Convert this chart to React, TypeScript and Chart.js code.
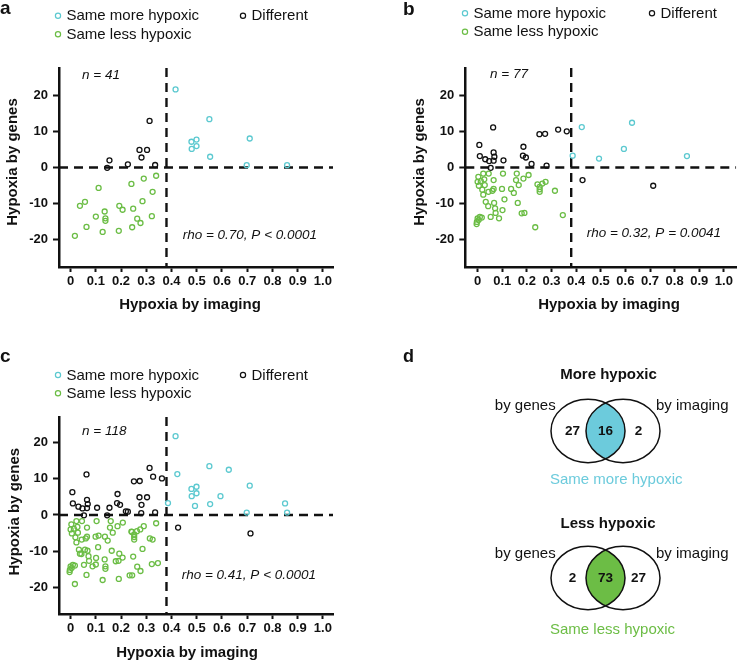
import React, { useEffect, useRef } from 'react';
import { Chart, registerables } from 'chart.js';

Chart.register(...registerables);

const FONT = '"Liberation Sans", Arial, Helvetica, sans-serif';
const CYAN = '#5cc9d0';
const GREEN = '#6bbd45';
const DARK = '#111111';
const VENN_CYAN = '#6ccbdc';
const VENN_GREEN = '#6cbd45';

const X_TICKS = [0, 1, 2, 3, 4, 5, 6, 7, 8, 9, 10].map((i) => i / 10);
const Y_TICKS = [-20, -10, 0, 10, 20];
const IMAGING_CUTOFF = 0.38;
const GENES_CUTOFF = 0;

const LEGEND_LABELS = ['Same more hypoxic', 'Different', 'Same less hypoxic'];
const X_TITLE = 'Hypoxia by imaging';
const Y_TITLE = 'Hypoxia by genes';

// ---- Panel a (n = 41)
const aSameMore: [number, number][] = [
  [0.416, 21.8], [0.55, 13.5], [0.71, 8.1], [0.479, 7.2], [0.499, 7.8],
  [0.499, 6.0], [0.48, 5.2], [0.553, 3.0], [0.698, 0.65], [0.858, 0.65],
];
const aDifferent: [number, number][] = [
  [0.313, 13.0], [0.273, 4.9], [0.303, 4.9], [0.281, 2.8], [0.154, 2.0],
  [0.145, -0.1], [0.227, 0.9], [0.335, 0.7],
];
const aSameLess: [number, number][] = [
  [0.339, -2.3], [0.29, -3.1], [0.241, -4.6], [0.111, -5.7], [0.325, -6.8],
  [0.037, -10.7], [0.057, -9.6], [0.285, -9.4], [0.193, -10.7], [0.206, -11.8],
  [0.248, -11.5], [0.135, -12.3], [0.1, -13.7], [0.138, -14.2], [0.138, -14.9],
  [0.264, -14.3], [0.277, -15.5], [0.322, -13.6], [0.063, -16.6], [0.127, -18.0],
  [0.191, -17.7], [0.244, -16.7], [0.017, -19.1],
];

// ---- Panel b (n = 77)
const bSameMore: [number, number][] = [
  [0.423, 11.3], [0.627, 12.5], [0.594, 5.2], [0.386, 3.3], [0.493, 2.5], [0.85, 3.2],
];
const bDifferent: [number, number][] = [
  [0.063, 11.2], [0.007, 6.3], [0.009, 3.2], [0.031, 2.3], [0.047, 1.8],
  [0.053, -0.1], [0.065, 4.2], [0.068, 3.0], [0.065, 1.9], [0.105, 2.0],
  [0.186, 5.8], [0.184, 3.3], [0.196, 2.8], [0.219, 1.0], [0.251, 9.3],
  [0.274, 9.4], [0.28, 0.5], [0.327, 10.6], [0.362, 10.1], [0.426, -3.5],
  [0.713, -5.1],
];
const bSameLess: [number, number][] = [
  [0.003, -2.6], [0.0, -4.0], [0.005, -5.1], [0.013, -3.8], [0.023, -1.7],
  [0.027, -3.3], [0.029, -4.9], [0.019, -6.2], [0.023, -7.6], [0.033, -9.6],
  [0.043, -10.8], [0.0, -14.2], [-0.003, -15.2], [-0.004, -15.8], [0.009, -13.8],
  [0.017, -14.0], [0.004, -14.7],
  [0.045, -1.7], [0.065, -3.5], [0.065, -6.0], [0.06, -6.5], [0.044, -6.8],
  [0.067, -9.9], [0.071, -11.4], [0.073, -12.7], [0.053, -13.8], [0.087, -14.2],
  [0.101, -11.9], [0.109, -8.9], [0.099, -6.0], [0.103, -1.7],
  [0.136, -6.0], [0.147, -7.1], [0.163, -9.9], [0.159, -1.7], [0.156, -3.5],
  [0.167, -4.9], [0.186, -3.1], [0.207, -2.1], [0.179, -12.8], [0.19, -12.7],
  [0.234, -16.7], [0.243, -4.7], [0.252, -5.4], [0.252, -6.1], [0.252, -6.8],
  [0.263, -4.5], [0.276, -4.0], [0.314, -6.5], [0.346, -13.3],
];

// ---- Panel c = a + b (n = 118)
const cSameMore = [...aSameMore, ...bSameMore];
const cDifferent = [...aDifferent, ...bDifferent];
const cSameLess = [...aSameLess, ...bSameLess];

const STATS = ['rho = 0.70, P < 0.0001', 'rho = 0.32, P = 0.0041', 'rho = 0.41, P < 0.0001'];
const N_LABELS = ['n = 41', 'n = 77', 'n = 118'];

// ---- Panel d (Venn counts: by genes only, both, by imaging only)
const VENN_TITLES = ['More hypoxic', 'Less hypoxic'];
const VENN_SET_LABELS = ['by genes', 'by imaging'];
const VENN_MORE = [27, 16, 2];
const VENN_LESS = [2, 73, 27];
const VENN_SAME = ['Same more hypoxic', 'Same less hypoxic'];

type TextItem = {
  t: string; x: number; y: number; font: string; color?: string;
  align?: CanvasTextAlign; baseline?: CanvasTextBaseline; rot?: number;
};
type LegendItem = { label: string; color: string; x: number; y: number };

function makeDecor(texts: TextItem[], legend: LegendItem[]) {
  return {
    id: 'decor',
    afterDraw(chart: any) {
      const ctx = chart.ctx as CanvasRenderingContext2D;
      ctx.save();
      for (const t of texts) {
        ctx.font = t.font;
        ctx.fillStyle = t.color || DARK;
        ctx.textAlign = t.align || 'left';
        ctx.textBaseline = t.baseline || 'middle';
        if (t.rot) {
          ctx.save();
          ctx.translate(t.x, t.y);
          ctx.rotate(t.rot);
          ctx.fillText(t.t, 0, 0);
          ctx.restore();
        } else {
          ctx.fillText(t.t, t.x, t.y);
        }
      }
      for (const l of legend) {
        ctx.beginPath();
        ctx.arc(l.x, l.y, 2.6, 0, Math.PI * 2);
        ctx.strokeStyle = l.color;
        ctx.lineWidth = 1.2;
        ctx.stroke();
        ctx.font = `15px ${FONT}`;
        ctx.fillStyle = DARK;
        ctx.textAlign = 'left';
        ctx.textBaseline = 'middle';
        ctx.fillText(l.label, l.x + 8.5, l.y + 0.5);
      }
      ctx.restore();
    },
  };
}

type PanelProps = {
  left: number; top: number; width: number; height: number;
  area: { left: number; top: number; right: number; bottom: number };
  xRange: [number, number]; yRange: [number, number];
  more: [number, number][]; diff: [number, number][]; less: [number, number][];
  texts: TextItem[]; legend: LegendItem[];
};

function ScatterPanel(p: PanelProps) {
  const ref = useRef<HTMLCanvasElement>(null);
  useEffect(() => {
    if (!ref.current) return;
    const pts = (data: [number, number][], color: string) => ({
      type: 'scatter' as const,
      data: data.map(([x, y]) => ({ x, y })),
      borderColor: color,
      backgroundColor: 'rgba(0,0,0,0)',
      pointRadius: 2.5,
      pointHoverRadius: 2.5,
      pointBorderWidth: 1.3,
      showLine: false,
      order: 1,
    });
    const dash = (data: { x: number; y: number }[]) => ({
      type: 'line' as const,
      data,
      borderColor: DARK,
      borderWidth: 2.4,
      borderDash: [9, 6],
      pointRadius: 0,
      fill: false,
      tension: 0,
      order: 10,
    });
    const tickFont = { family: FONT, size: 13, weight: 'bold' as const };
    const chart = new Chart(ref.current, {
      type: 'scatter',
      data: {
        datasets: [
          dash([{ x: p.xRange[0], y: GENES_CUTOFF }, { x: p.xRange[1], y: GENES_CUTOFF }]),
          dash([{ x: IMAGING_CUTOFF, y: p.yRange[1] }, { x: IMAGING_CUTOFF, y: p.yRange[0] }]),
          pts(p.less, GREEN),
          pts(p.diff, DARK),
          pts(p.more, CYAN),
        ] as any,
      },
      options: {
        animation: false,
        responsive: false,
        maintainAspectRatio: false,
        events: [],
        layout: { padding: { left: 0, top: p.area.top, right: p.width - p.area.right, bottom: 0 } },
        plugins: { legend: { display: false }, tooltip: { enabled: false } },
        scales: {
          x: {
            type: 'linear',
            min: p.xRange[0],
            max: p.xRange[1],
            afterBuildTicks: (s: any) => { s.ticks = X_TICKS.map((v) => ({ value: v })); },
            afterFit: (s: any) => { s.height = p.height - p.area.bottom; },
            ticks: {
              autoSkip: false, maxRotation: 0, minRotation: 0, padding: 2,
              color: DARK, font: tickFont,
              callback: (v: any) => (Number(v) === 0 ? '0' : Number(v).toFixed(1)),
            },
            grid: { display: true, drawOnChartArea: false, drawTicks: true, tickLength: 5, tickWidth: 2, tickColor: DARK },
            border: { display: true, color: DARK, width: 2.5 },
          },
          y: {
            type: 'linear',
            min: p.yRange[0],
            max: p.yRange[1],
            afterBuildTicks: (s: any) => { s.ticks = Y_TICKS.map((v) => ({ value: v })); },
            afterFit: (s: any) => { s.width = p.area.left; },
            ticks: { autoSkip: false, padding: 5, color: DARK, font: tickFont, callback: (v: any) => String(v) },
            grid: { display: true, drawOnChartArea: false, drawTicks: true, tickLength: 6, tickWidth: 2, tickColor: DARK },
            border: { display: true, color: DARK, width: 2.5 },
          },
        },
      } as any,
      plugins: [makeDecor(p.texts, p.legend)],
    });
    return () => chart.destroy();
  }, []);
  return (
    <canvas
      ref={ref}
      width={p.width}
      height={p.height}
      style={{ position: 'absolute', left: p.left, top: p.top, width: p.width, height: p.height, display: 'block' }}
    />
  );
}

// Venn coordinate system (units of circle radius)
const VX: [number, number] = [-6.365, 3.635];
const VY: [number, number] = [-7.29, 3.5];
const VENN_HALF_SEP = 0.473;
const VENN_ROWS = [0, -4.64];
const VENN_COUNT_X = [-0.89, 0, 0.89];

function VennPanel() {
  const ref = useRef<HTMLCanvasElement>(null);
  useEffect(() => {
    if (!ref.current) return;
    const groups = [
      { y: VENN_ROWS[0], counts: VENN_MORE, fill: VENN_CYAN },
      { y: VENN_ROWS[1], counts: VENN_LESS, fill: VENN_GREEN },
    ];
    const vennPlugin = {
      id: 'venn',
      afterDraw(chart: any) {
        const ctx = chart.ctx as CanvasRenderingContext2D;
        const X = chart.scales.x;
        const Y = chart.scales.y;
        const rx = X.getPixelForValue(1) - X.getPixelForValue(0);
        const ry = Y.getPixelForValue(0) - Y.getPixelForValue(1);
        const cxL = X.getPixelForValue(-VENN_HALF_SEP);
        const cxR = X.getPixelForValue(VENN_HALF_SEP);
        ctx.save();
        for (const g of groups) {
          const cy = Y.getPixelForValue(g.y);
          ctx.save();
          ctx.beginPath();
          ctx.ellipse(cxL, cy, rx, ry, 0, 0, Math.PI * 2);
          ctx.clip();
          ctx.beginPath();
          ctx.ellipse(cxR, cy, rx, ry, 0, 0, Math.PI * 2);
          ctx.fillStyle = g.fill;
          ctx.fill();
          ctx.restore();
          ctx.lineWidth = 1.5;
          ctx.strokeStyle = DARK;
          for (const cx of [cxL, cxR]) {
            ctx.beginPath();
            ctx.ellipse(cx, cy, rx, ry, 0, 0, Math.PI * 2);
            ctx.stroke();
          }
          ctx.font = `bold 13.5px ${FONT}`;
          ctx.fillStyle = DARK;
          ctx.textAlign = 'center';
          ctx.textBaseline = 'middle';
          g.counts.forEach((c, i) => {
            ctx.fillText(String(c), X.getPixelForValue(VENN_COUNT_X[i]), cy + 0.5);
          });
        }
        ctx.restore();
      },
    };
    const bold15 = `bold 15px ${FONT}`;
    const reg15 = `15px ${FONT}`;
    const texts: TextItem[] = [
      { t: 'd', x: 33, y: 41.7, font: `bold 18px ${FONT}`, baseline: 'alphabetic' },
      { t: VENN_TITLES[0], x: 238.5, y: 55, font: bold15, align: 'center' },
      { t: VENN_SET_LABELS[0], x: 185.7, y: 86, font: reg15, align: 'right' },
      { t: VENN_SET_LABELS[1], x: 286, y: 86, font: reg15 },
      { t: VENN_SAME[0], x: 180, y: 160, font: reg15, color: VENN_CYAN },
      { t: VENN_TITLES[1], x: 238, y: 204, font: bold15, align: 'center' },
      { t: VENN_SET_LABELS[0], x: 185.7, y: 234.3, font: reg15, align: 'right' },
      { t: VENN_SET_LABELS[1], x: 286, y: 234.3, font: reg15 },
      { t: VENN_SAME[1], x: 180, y: 310, font: reg15, color: VENN_GREEN },
    ];
    const chart = new Chart(ref.current, {
      type: 'scatter',
      data: { datasets: [{ data: [], pointRadius: 0 }] },
      options: {
        animation: false,
        responsive: false,
        maintainAspectRatio: false,
        events: [],
        layout: { padding: 0 },
        plugins: { legend: { display: false }, tooltip: { enabled: false } },
        scales: {
          x: { type: 'linear', display: false, min: VX[0], max: VX[1] },
          y: { type: 'linear', display: false, min: VY[0], max: VY[1] },
        },
      } as any,
      plugins: [vennPlugin, makeDecor(texts, [])],
    });
    return () => chart.destroy();
  }, []);
  return (
    <canvas
      ref={ref}
      width={370}
      height={342}
      style={{ position: 'absolute', left: 370, top: 320, width: 370, height: 342, display: 'block' }}
    />
  );
}

function legendAt(x1: number, x2: number, y1: number, y2: number): LegendItem[] {
  return [
    { label: LEGEND_LABELS[0], color: CYAN, x: x1, y: y1 },
    { label: LEGEND_LABELS[1], color: DARK, x: x2, y: y1 },
    { label: LEGEND_LABELS[2], color: GREEN, x: x1, y: y2 },
  ];
}

const LETTER = `bold 19px ${FONT}`;
const TITLE = `bold 15px ${FONT}`;
const ITAL = `italic 13.5px ${FONT}`;

export default function App() {
  return (
    <div style={{ position: 'absolute', left: 0, top: 0, width: 740, height: 662, background: '#ffffff', overflow: 'hidden' }}>
      <ScatterPanel
        left={0} top={0} width={370} height={320}
        area={{ left: 59, top: 68, right: 333, bottom: 267 }}
        xRange={[-0.046, 1.04]} yRange={[-27.8, 27.8]}
        more={aSameMore} diff={aDifferent} less={aSameLess}
        legend={legendAt(58, 243, 15.7, 34.3)}
        texts={[
          { t: 'a', x: 0, y: 13.5, font: LETTER, baseline: 'alphabetic' },
          { t: Y_TITLE, x: 13, y: 162, font: TITLE, align: 'center', rot: -Math.PI / 2 },
          { t: X_TITLE, x: 190, y: 305, font: TITLE, align: 'center' },
          { t: N_LABELS[0], x: 82, y: 75, font: ITAL },
          { t: STATS[0], x: 182.7, y: 235, font: ITAL },
        ]}
      />
      <ScatterPanel
        left={370} top={0} width={370} height={320}
        area={{ left: 95.3, top: 68, right: 370, bottom: 267 }}
        xRange={[-0.05, 1.05]} yRange={[-27.8, 27.8]}
        more={bSameMore} diff={bDifferent} less={bSameLess}
        legend={legendAt(95, 282, 13.3, 31.7)}
        texts={[
          { t: 'b', x: 33, y: 15, font: LETTER, baseline: 'alphabetic' },
          { t: Y_TITLE, x: 50, y: 162, font: TITLE, align: 'center', rot: -Math.PI / 2 },
          { t: X_TITLE, x: 239, y: 305, font: TITLE, align: 'center' },
          { t: N_LABELS[1], x: 120, y: 74, font: ITAL },
          { t: STATS[1], x: 216.7, y: 233.3, font: ITAL },
        ]}
      />
      <ScatterPanel
        left={0} top={320} width={370} height={342}
        area={{ left: 59, top: 97, right: 333, bottom: 294 }}
        xRange={[-0.046, 1.04]} yRange={[-27.4, 27.1]}
        more={cSameMore} diff={cDifferent} less={cSameLess}
        legend={legendAt(58, 243, 55, 73.3)}
        texts={[
          { t: 'c', x: 0, y: 41.7, font: LETTER, baseline: 'alphabetic' },
          { t: Y_TITLE, x: 15, y: 191.7, font: TITLE, align: 'center', rot: -Math.PI / 2 },
          { t: X_TITLE, x: 187, y: 333, font: TITLE, align: 'center' },
          { t: N_LABELS[2], x: 82, y: 111.7, font: ITAL },
          { t: STATS[2], x: 181.7, y: 255, font: ITAL },
        ]}
      />
      <VennPanel />
    </div>
  );
}
